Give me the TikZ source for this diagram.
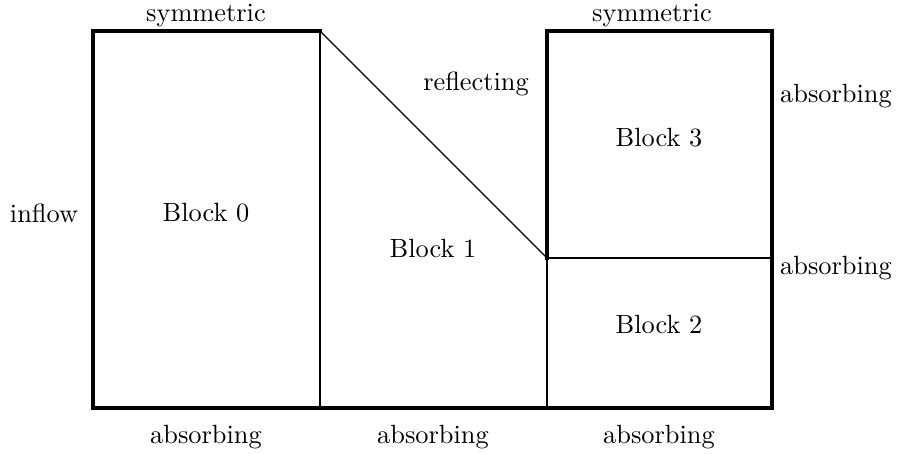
\documentclass[tikz,border=0pt]{standalone}
\usetikzlibrary{positioning}
\tikzset{
  wall/.style={line width=1.4pt, line cap=rect},
  seam/.style={line width=0.8pt},
  cut/.style={line width=0.5pt},
  bc/.style={inner sep=1pt},
  blocklabel/.style={inner sep=1pt},
}

\begin{document}
\begin{tikzpicture}[x=0.013333cm, y=-0.013333cm]
  \useasboundingbox (0,0) rectangle (900,454);
  % ---- corners of the blocks
  \coordinate (w0) at (93,31);
  \coordinate (s0) at (93,408);
  \coordinate (n1) at (320,31);
  \coordinate (s1) at (320,408);
  \coordinate (m3) at (547,258);
  \coordinate (n3) at (547,31);
  \coordinate (s2) at (547,408);
  \coordinate (ne) at (772,31);
  \coordinate (me) at (772,258);
  \coordinate (se) at (772,408);
  % ---- interfaces between blocks
  \draw[seam] (n1) -- (s1);
  \draw[seam] (m3) -- (s2);
  \draw[cut] (m3) -- (me);
  \draw[cut] (n1) -- (m3);
  % ---- physical boundaries
  \draw[wall] (n1) -- (w0) -- (s0) -- (se) -- (ne) -- (n3) -- (m3);
  % ---- block names
  \node[blocklabel] (b0) at (206,213) {Block 0};
  \node[blocklabel] (b1) at (433,249) {Block 1};
  \node[blocklabel] (b2) at (659,325) {Block 2};
  \node[blocklabel] (b3) at (659,138) {Block 3};
  % ---- boundary conditions
  \node[bc] (top0) at (206,16) {symmetric};
  \node[bc] (top3) at (652,16) {symmetric};
  \node[bc] (refl) at (476,84) {reflecting};
  \node[bc] (inflow) at (44,213) {inflow};
  \node[bc] (east3) at (836,96) {absorbing};
  \node[bc] (east2) at (836,268) {absorbing};
  \node[bc] (bot0) at (206,437) {absorbing};
  \node[bc] (bot1) at (433,437) {absorbing};
  \node[bc] (bot2) at (659,437) {absorbing};
\end{tikzpicture}
\end{document}
